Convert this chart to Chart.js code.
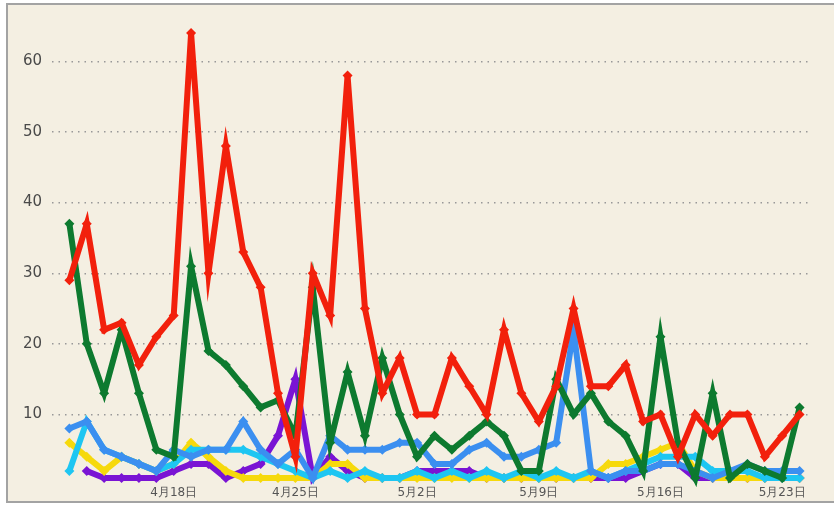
<!DOCTYPE html>
<html lang="ja">
<head>
<meta charset="UTF-8">
<title>Chart</title>
<script src="https://cdn.jsdelivr.net/npm/chart.js@4.4.1/dist/chart.umd.min.js"></script>
<style>
  html, body {
    margin: 0;
    padding: 0;
    background: #ffffff;
    overflow: hidden;
  }
  .frame {
    position: absolute;
    left: 6px;
    top: 3px;
    width: 840px;
    height: 496px;
    background: #f4efe2;
    border: 2px solid #a3a3a3;
    border-right: none;
  }
  #chart {
    position: absolute;
    left: 0;
    top: 0;
  }
</style>
</head>
<body>
<div class="frame"></div>
<canvas id="chart" width="834" height="507"></canvas>

<script>
// dates from 4/12 to 5/24
const dates = [
  "4月12日","4月13日","4月14日","4月15日","4月16日","4月17日","4月18日",
  "4月19日","4月20日","4月21日","4月22日","4月23日","4月24日","4月25日",
  "4月26日","4月27日","4月28日","4月29日","4月30日","5月1日","5月2日",
  "5月3日","5月4日","5月5日","5月6日","5月7日","5月8日","5月9日",
  "5月10日","5月11日","5月12日","5月13日","5月14日","5月15日","5月16日",
  "5月17日","5月18日","5月19日","5月20日","5月21日","5月22日","5月23日",
  "5月24日"
];
const tickIdx = [6, 13, 20, 27, 34, 41];
const yTicks = [10, 20, 30, 40, 50, 60];

const red    = [29,37,22,23,17,21,24,64,30,48,33,28,13,4,30,24,58,25,13,18,10,10,18,14,10,22,13,9,14,25,14,14,17,9,10,4,10,7,10,10,4,7,10];
const green  = [37,20,13,22,13,5,4,31,19,17,14,11,12,7,28,6,16,7,18,10,4,7,5,7,9,7,2,2,15,10,13,9,7,2,21,6,1,13,1,3,2,1,11];
const blue   = [8,9,5,4,3,2,5,4,5,5,9,5,3,5,1,7,5,5,5,6,6,3,3,5,6,4,4,5,6,22,2,1,2,2,3,3,2,1,2,3,2,2,2];
const cyan   = [2,9,5,4,3,2,3,5,5,5,5,4,3,2,1,2,1,2,1,1,2,1,2,1,2,1,2,1,2,1,2,1,2,3,4,4,4,2,2,2,1,1,1];
const yellow = [6,4,2,4,3,2,3,6,4,2,1,1,1,1,1,3,3,1,1,1,1,1,1,1,1,1,1,1,1,1,1,3,3,4,5,6,2,1,1,1,1,1,1];
const purple = [null,2,1,1,1,1,2,3,3,1,2,3,7,15,1,4,2,1,1,1,2,2,2,2,1,1,1,1,1,1,1,1,1,2,3,3,1,1,1,1,1,1,1];

function series(values, color) {
  return {
    data: values.map((v, i) => ({ x: i, y: v })),
    borderColor: color,
    backgroundColor: color,
    borderWidth: 6,
    pointStyle: 'rectRot',
    pointRadius: 5,
    pointBorderWidth: 0,
    tension: 0,
    clip: false
  };
}

new Chart("chart", {
  type: "line",
  data: {
    // first dataset ends up on top
    datasets: [
      series(red, "#f2200c"),
      series(green, "#0d7a2f"),
      series(blue, "#3b8ff0"),
      series(cyan, "#1ec6f2"),
      series(yellow, "#f6d90c"),
      series(purple, "#7a14d4")
    ]
  },
  options: {
    responsive: false,
    animation: false,
    layout: { padding: { left: 0, top: 15, right: 24, bottom: 0 } },
    plugins: { legend: { display: false }, tooltip: { enabled: false } },
    scales: {
      x: {
        type: "linear",
        min: -1,
        max: 42.6,
        grid: { display: false },
        border: { display: false },
        afterBuildTicks: axis => { axis.ticks = tickIdx.map(v => ({ value: v })); },
        afterFit: axis => { axis.height = 29; },
        ticks: {
          autoSkip: false,
          maxRotation: 0,
          padding: 0,
          color: "#555",
          font: { family: "DejaVu Sans", size: 12 },
          callback: v => dates[v]
        }
      },
      y: {
        min: 1,
        max: 66,
        border: { display: false, dash: [1.5, 5] },
        grid: {
          color: "#989898",
          lineWidth: 1.4,
          drawTicks: false
        },
        afterBuildTicks: axis => { axis.ticks = yTicks.map(v => ({ value: v })); },
        afterFit: axis => { axis.width = 52; },
        ticks: {
          padding: 10,
          color: "#4a4a4a",
          font: { family: "DejaVu Sans", size: 15 }
        }
      }
    }
  }
});
</script>
</body>
</html>
